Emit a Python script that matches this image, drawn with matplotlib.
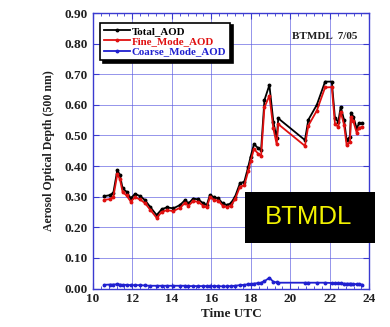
import matplotlib
matplotlib.use("Agg")
import matplotlib.pyplot as plt
from matplotlib.ticker import MultipleLocator, AutoMinorLocator
from matplotlib.patches import Rectangle

# Observation times (hours UTC) and AOD values at 500 nm
hours = [10.58, 10.87, 11.04, 11.24, 11.37, 11.51, 11.71, 11.92, 12.14, 12.39,
         12.64, 12.90, 13.23, 13.49, 13.74, 14.08, 14.42, 14.67, 14.84, 15.09,
         15.34, 15.60, 15.77, 15.93, 16.13, 16.35, 16.57, 16.78, 16.98, 17.20,
         17.45, 17.67, 17.87, 17.99, 18.16, 18.38, 18.52, 18.69, 18.94, 19.14,
         19.31, 19.39, 20.74, 20.91, 21.34, 21.76, 22.10, 22.26, 22.43, 22.55,
         22.72, 22.85, 23.02, 23.07, 23.19, 23.36, 23.48, 23.61]

total_aod = [0.302, 0.305, 0.313, 0.387, 0.371, 0.327, 0.316, 0.295, 0.309, 0.302,
             0.289, 0.267, 0.240, 0.259, 0.265, 0.262, 0.273, 0.289, 0.278, 0.294,
             0.291, 0.278, 0.273, 0.306, 0.298, 0.295, 0.278, 0.273, 0.278, 0.300,
             0.344, 0.349, 0.398, 0.431, 0.472, 0.458, 0.453, 0.616, 0.665, 0.545,
             0.491, 0.556, 0.485, 0.551, 0.600, 0.676, 0.676, 0.556, 0.545, 0.594,
             0.551, 0.485, 0.496, 0.575, 0.561, 0.523, 0.540, 0.540]

fine_aod = [0.290, 0.292, 0.300, 0.373, 0.358, 0.315, 0.304, 0.284, 0.298, 0.291,
            0.279, 0.258, 0.231, 0.250, 0.256, 0.253, 0.264, 0.280, 0.270, 0.286,
            0.283, 0.270, 0.265, 0.298, 0.290, 0.287, 0.271, 0.266, 0.270, 0.291,
            0.333, 0.337, 0.384, 0.416, 0.456, 0.440, 0.434, 0.592, 0.630, 0.523,
            0.471, 0.537, 0.466, 0.532, 0.581, 0.657, 0.658, 0.538, 0.528, 0.577,
            0.535, 0.469, 0.480, 0.560, 0.546, 0.509, 0.526, 0.527]

coarse_aod = [0.012, 0.013, 0.013, 0.014, 0.013, 0.012, 0.012, 0.011, 0.011, 0.011,
              0.010, 0.009, 0.009, 0.009, 0.009, 0.009, 0.009, 0.009, 0.008, 0.008,
              0.008, 0.008, 0.008, 0.008, 0.008, 0.008, 0.007, 0.007, 0.008, 0.009,
              0.011, 0.012, 0.014, 0.015, 0.016, 0.018, 0.019, 0.024, 0.035, 0.022,
              0.020, 0.019, 0.019, 0.019, 0.019, 0.019, 0.018, 0.018, 0.017, 0.017,
              0.016, 0.016, 0.016, 0.015, 0.015, 0.014, 0.014, 0.013]

series_labels = ["Total_AOD", "Fine_Mode_AOD", "Coarse_Mode_AOD"]
series_colors = ["black", "#e01010", "#2020d0"]

site_label = "BTMDL  7/05"
box_label = "BTMDL"

plt.rcParams["font.family"] = ["Liberation Serif", "DejaVu Serif"]
plt.rcParams["font.weight"] = "bold"

fig = plt.figure(figsize=(3.9, 3.27), dpi=100)
ax = fig.add_axes([0.238, 0.1177, 0.709, 0.8423])

axis_blue = "#3a3ad0"
for vals, lab, col in zip([total_aod, fine_aod, coarse_aod], series_labels, series_colors):
    ax.plot(hours, vals, color=col, lw=1.3, marker="o", ms=1.8, label=lab)

ax.set_xlim(10, 24)
ax.set_ylim(0, 0.9)
ax.xaxis.set_major_locator(MultipleLocator(2))
ax.yaxis.set_major_locator(MultipleLocator(0.1))
ax.xaxis.set_minor_locator(AutoMinorLocator(5))
ax.set_yticklabels([f"{v:.2f}" for v in ax.get_yticks()])
ax.grid(True, which="major", color="#5a5ae0", lw=0.6, alpha=0.75)
ax.set_axisbelow(True)
for sp in ax.spines.values():
    sp.set_color(axis_blue)
    sp.set_linewidth(1.0)
ax.tick_params(which="both", direction="in", colors=axis_blue, top=True, right=True,
               labelcolor="#202020", labelsize=9.5)
ax.tick_params(which="major", length=4)
ax.tick_params(which="minor", length=2.5)
for lbl in ax.get_xticklabels() + ax.get_yticklabels():
    lbl.set_fontweight("bold")

ax.set_xlabel("Time UTC", fontsize=9.5, fontweight="bold", color="#202020", labelpad=2)
ax.set_ylabel("Aerosol Optical Depth (500 nm)", fontsize=8.5, fontweight="bold",
              color="#202020", labelpad=7)

leg = ax.legend(loc="upper left", bbox_to_anchor=(0.026, 0.965), fontsize=7.8,
                fancybox=False, shadow={"color": "black", "alpha": 1.0}, edgecolor="black",
                framealpha=1, labelcolor="linecolor", handlelength=2.4, numpoints=1,
                handletextpad=0.2, labelspacing=0.05, borderpad=0.35, borderaxespad=0.0)
leg.get_frame().set_linewidth(1.2)
for t in leg.get_texts():
    t.set_fontweight("bold")

ax.text(0.955, 0.915, site_label, transform=ax.transAxes, ha="right", va="center",
        fontsize=8, fontweight="bold", color="#202020")

# Station name plate
fig.patches.append(Rectangle((0.628, 0.258), 0.334, 0.156, transform=fig.transFigure,
                             facecolor="black", edgecolor="none", zorder=5))
fig.text(0.792, 0.336, box_label, ha="center", va="center", fontsize=18.5,
         family="Liberation Sans", fontweight="normal", color="#f2f200", zorder=6)

fig.savefig("out.png", dpi=100)
